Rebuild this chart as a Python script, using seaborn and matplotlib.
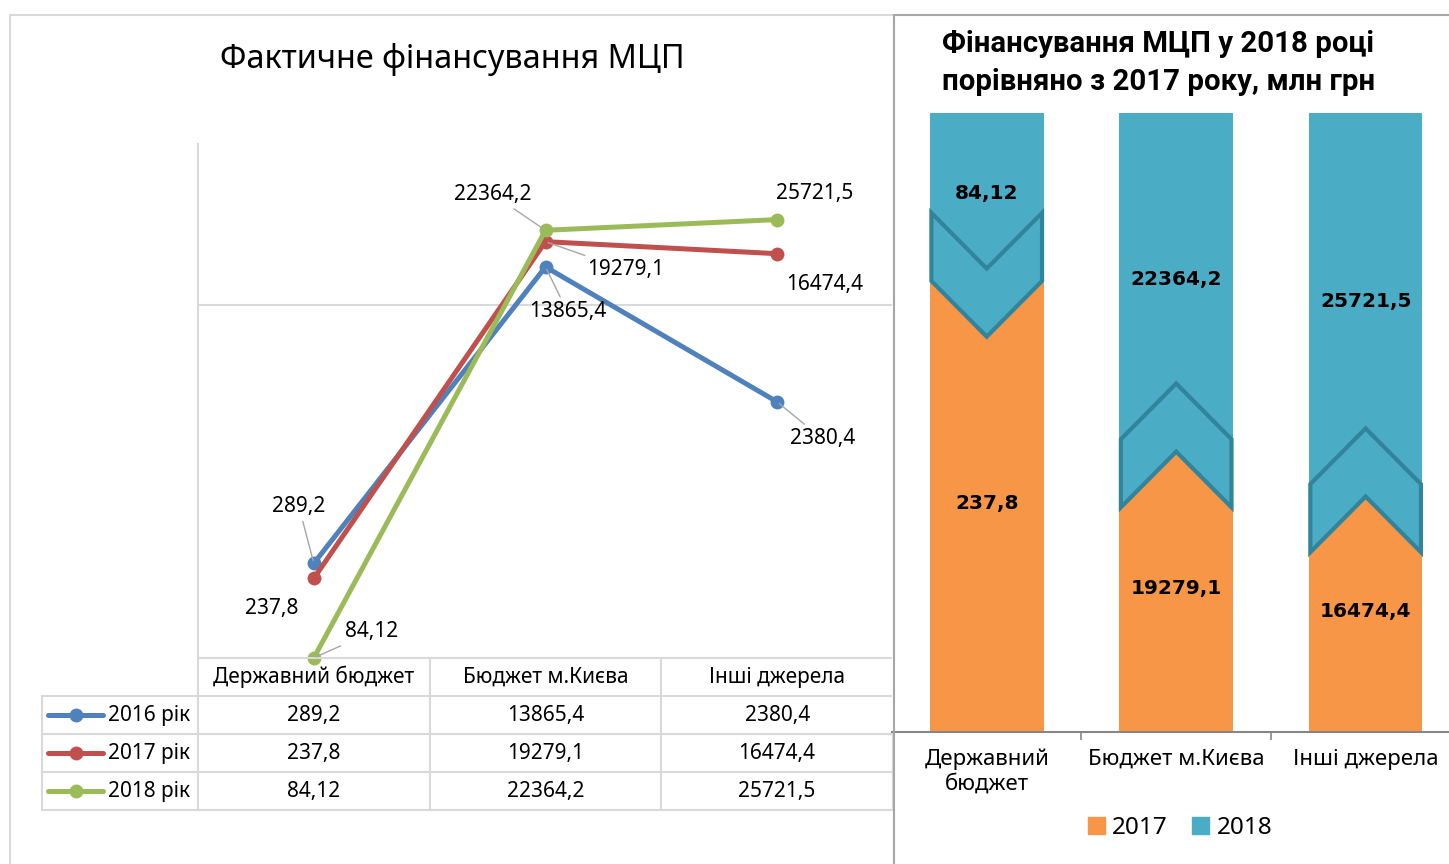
import numpy as np
import pandas as pd
import seaborn as sns
import matplotlib.pyplot as plt
from matplotlib.patches import Polygon, Patch
from matplotlib.lines import Line2D
from matplotlib.ticker import NullLocator

sns.set_theme(style='white')
plt.rcParams['font.family'] = ['Noto Sans', 'DejaVu Sans']
plt.rcParams['text.color'] = 'black'
plt.rcParams['xtick.color'] = 'black'

# дані (млн грн)
sources = ['Державний бюджет', 'Бюджет м.Києва', 'Інші джерела']
years = ['2016 рік', '2017 рік', '2018 рік']
fin_2016 = [289.2, 13865.4, 2380.4]
fin_2017 = [237.8, 19279.1, 16474.4]
fin_2018 = [84.12, 22364.2, 25721.5]

bar_cats = ['Державний\nбюджет', 'Бюджет м.Києва', 'Інші джерела']
bar_years = ['2017', '2018']

line_colors = ['#4F81BD', '#C0504D', '#9BBB59']
orange, teal, teal_dark = '#F79646', '#4BACC6', '#31849B'
grid_c = '#d9d9d9'
W, H = 1449, 864


def fmt(v):
    return str(v).replace('.', ',')


fig = plt.figure(figsize=(W / 100, H / 100), dpi=100)

# ---------- ліва діаграма ----------
ax = fig.add_axes([198 / W, 1 - 658 / H, (893 - 198) / W, (658 - 144) / H])
df = pd.DataFrame({
    'source': sources * 3,
    'year': np.repeat(years, 3),
    'value': fin_2016 + fin_2017 + fin_2018,
})
palette = dict(zip(years, line_colors))
sns.lineplot(data=df, x='source', y='value', hue='year', palette=palette,
             marker='o', markersize=10, markeredgewidth=0, linewidth=3.6,
             sort=False, legend=False, ax=ax, clip_on=False)
ax.set_yscale('log')
ax.set_ylim(84, 69000)
ax.set_xlim(-0.5, 2.5)
ax.set_yticks([8400])
ax.yaxis.set_minor_locator(NullLocator())
ax.set_yticklabels([])
ax.set_xticks([])
ax.set_xlabel('')
ax.set_ylabel('')
ax.tick_params(length=0)
ax.grid(axis='y', color=grid_c, lw=1.5)
for s in ['top', 'right', 'bottom']:
    ax.spines[s].set_visible(False)
ax.spines['left'].set_color(grid_c)
ax.spines['left'].set_linewidth(1.5)

# підписи даних (зсув у пікселях, виноска)
offsets = {
    '2016 рік': [(-15, 57, True), (22, -45, True), (45, -37, True)],
    '2017 рік': [(-42, -30, False), (80, -28, True), (48, -31, False)],
    '2018 рік': [(58, 26, True), (-53, 36, True), (38, 26, False)],
}
series = dict(zip(years, [fin_2016, fin_2017, fin_2018]))
for yr in years:
    for i, v in enumerate(series[yr]):
        dx, dy, lead = offsets[yr][i]
        ap = dict(arrowstyle='-', color='#a6a6a6', lw=1, shrinkA=1, shrinkB=2) if lead else None
        ax.annotate(fmt(v), (i, v), xytext=(dx, dy), textcoords='offset pixels',
                    ha='center', va='center', fontsize=15, color='black',
                    arrowprops=ap)

# таблиця даних
tr = ax.get_xaxis_transform()
row_h = 38 / 514
x_left = -0.5 - 156 / 231.7
tab_kw = dict(transform=tr, clip_on=False, color=grid_c, lw=1.5)
ax.plot([-0.5, 2.5], [0, 0], **tab_kw)
for k in range(1, 5):
    ax.plot([x_left, 2.5], [-k * row_h, -k * row_h], **tab_kw)
for xv in [-0.5, 0.5, 1.5, 2.5]:
    ax.plot([xv, xv], [0, -4 * row_h], **tab_kw)
ax.plot([x_left, x_left], [-row_h, -4 * row_h], **tab_kw)
for i, src in enumerate(sources):
    ax.text(i, -0.5 * row_h, src, transform=tr, ha='center', va='center', fontsize=15)
for k, yr in enumerate(years):
    yc = -(k + 1.5) * row_h
    for i, v in enumerate(series[yr]):
        ax.text(i, yc, fmt(v), transform=tr, ha='center', va='center', fontsize=15)
    ax.plot([x_left + 0.026, x_left + 0.263], [yc, yc], transform=tr, clip_on=False,
            color=line_colors[k], lw=3.6, solid_capstyle='round')
    ax.plot([x_left + 0.145], [yc], 'o', transform=tr, clip_on=False,
            color=line_colors[k], markersize=10, markeredgewidth=0)
    ax.text(x_left + 0.285, yc, yr, transform=tr, ha='left', va='center', fontsize=15)

fig.text(452 / W, 1 - 60 / H, 'Фактичне фінансування МЦП', ha='center', va='center', fontsize=23.3)

# ---------- права діаграма ----------
ax2 = fig.add_axes([892 / W, 1 - 732 / H, 557 / W, (732 - 113) / H])
totals = [a + b for a, b in zip(fin_2017, fin_2018)]
share17 = [a / t for a, t in zip(fin_2017, totals)]
share18 = [b / t for b, t in zip(fin_2018, totals)]
stack = [a + b for a, b in zip(share17, share18)]

sns.barplot(x=bar_cats, y=stack, color=teal, saturation=1, width=0.6, linewidth=0, ax=ax2)
n0 = len(ax2.patches)
sns.barplot(x=bar_cats, y=share17, color=orange, saturation=1, width=0.6, linewidth=0, ax=ax2)
orange_bars = ax2.patches[n0:]

hh, notch = 0.1, 0.09
for bar, a, b in zip(orange_bars, fin_2017, fin_2018):
    x0 = bar.get_x() + 0.008
    x1 = bar.get_x() + bar.get_width() - 0.008
    xc = (x0 + x1) / 2
    lvl = bar.get_height()
    if b > a:
        pts = [(x0, lvl + hh - notch), (xc, lvl + hh), (x1, lvl + hh - notch),
               (x1, lvl - hh), (xc, lvl - hh + notch), (x0, lvl - hh)]
    else:
        pts = [(x0, lvl + hh), (xc, lvl + hh - notch), (x1, lvl + hh),
               (x1, lvl - hh + notch), (xc, lvl - hh), (x0, lvl - hh + notch)]
    ax2.add_patch(Polygon(pts, closed=True, facecolor=teal, edgecolor=teal_dark,
                          lw=3, joinstyle='miter', zorder=3))

for i, (s17, s18, a, b) in enumerate(zip(share17, share18, fin_2017, fin_2018)):
    ax2.text(i, s17 / 2, fmt(a), ha='center', va='center', fontsize=14.5, color='black',
             fontweight='bold', family='DejaVu Sans', zorder=4)
    ax2.text(i, s17 + s18 / 2, fmt(b), ha='center', va='center', fontsize=14.5, color='black',
             fontweight='bold', family='DejaVu Sans', zorder=4)

ax2.set_ylim(0, 1)
ax2.set_xlim(-0.5, 2.44)
ax2.set_yticks([])
ax2.set_xticks([0.5, 1.5], minor=True)
ax2.tick_params(axis='x', which='major', length=0, labelsize=16, pad=12, labelcolor='black')
ax2.tick_params(axis='x', which='minor', length=6, width=1.2, color='#868686', direction='out', bottom=True)
for s in ['top', 'right', 'left']:
    ax2.spines[s].set_visible(False)
ax2.spines['bottom'].set_color('#868686')
ax2.spines['bottom'].set_linewidth(1.5)

handles = [Patch(color=orange, label=bar_years[0]), Patch(color=teal, label=bar_years[1])]
fig.legend(handles=handles, loc='center', bbox_to_anchor=(1180 / W, 1 - 828 / H), ncol=2,
           frameon=False, fontsize=17.5, handlelength=0.7, handleheight=0.7,
           handletextpad=0.3, columnspacing=1.0)

fig.text(942 / W, 1 - 63 / H, 'Фінансування МЦП у 2018 році\nпорівняно з 2017 року, млн грн',
         ha='left', va='center', fontsize=21.2, fontweight='bold', linespacing=1.42,
         family=['Roboto', 'DejaVu Sans'])

# рамки
fig.add_artist(Line2D([10 / W, 10 / W], [0, 1 - 15 / H], color=grid_c, lw=1.5))
fig.add_artist(Line2D([10 / W, 894 / W], [1 - 15 / H, 1 - 15 / H], color=grid_c, lw=1.5))
fig.add_artist(Line2D([894 / W, 894 / W], [0, 1 - 15 / H], color='#a6a6a6', lw=1.5))
fig.add_artist(Line2D([894 / W, 1], [1 - 15 / H, 1 - 15 / H], color='#a6a6a6', lw=1.5))

fig.savefig('out.png', dpi=100)
